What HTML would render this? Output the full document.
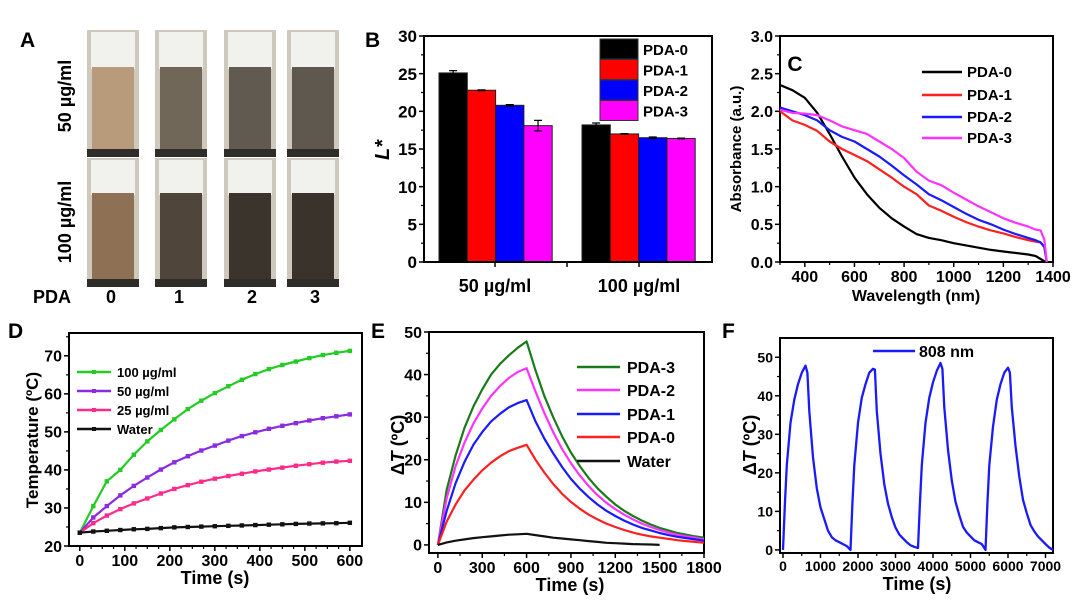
<!DOCTYPE html>
<html><head><meta charset="utf-8"><style>
html,body{margin:0;padding:0;background:#fff;}
svg{display:block;font-family:"Liberation Sans",Arial,sans-serif;font-weight:bold;}
</style></head><body>
<svg id="fig" width="1080" height="607" viewBox="0 0 1080 607" xmlns="http://www.w3.org/2000/svg">
<rect x="0" y="0" width="1080" height="607" fill="#fff"/>
</svg>
<script>
// ---- Panel B data ----
const bGroups = ["50 µg/ml", "100 µg/ml"];
const bSeries = ["PDA-0", "PDA-1", "PDA-2", "PDA-3"];
const bVals50 = [25.1, 22.8, 20.8, 18.1];
const bVals100 = [18.2, 17.0, 16.5, 16.4];
const bErr50 = [0.3, 0.05, 0.1, 0.7];
const bErr100 = [0.25, 0.05, 0.1, 0.05];
const bYTicks = [0, 5, 10, 15, 20, 25, 30];
// ---- Panel C data ----
const cWave = [300,350,400,450,500,550,600,650,700,750,800,850,900,950,1000,1050,1100,1150,1200,1250,1300,1330,1350,1365,1375];
const cPDA0 = [2.35,2.28,2.18,1.98,1.70,1.40,1.12,0.90,0.72,0.58,0.47,0.37,0.32,0.29,0.25,0.22,0.19,0.16,0.14,0.12,0.10,0.08,0.04,0.01,0.0];
const cPDA1 = [2.0,1.88,1.82,1.74,1.6,1.5,1.42,1.34,1.23,1.12,1.0,0.9,0.75,0.68,0.6,0.53,0.47,0.42,0.38,0.33,0.29,0.27,0.26,0.2,0.0];
const cPDA2 = [2.05,2.0,1.95,1.88,1.75,1.66,1.6,1.5,1.4,1.28,1.15,1.03,0.9,0.82,0.73,0.64,0.56,0.5,0.43,0.37,0.32,0.29,0.26,0.2,0.0];
const cPDA3 = [2.02,1.98,1.97,1.95,1.88,1.8,1.75,1.7,1.6,1.5,1.38,1.2,1.08,1.02,0.92,0.83,0.74,0.66,0.58,0.52,0.47,0.43,0.42,0.3,0.0];
const cXTicks = [400,600,800,1000,1200,1400];
const cYTicks = ["0.0","0.5","1.0","1.5","2.0","2.5","3.0"];
// ---- Panel D data ----
const dTime = [0,30,60,90,120,150,180,210,240,270,300,330,360,390,420,450,480,510,540,570,600];
const d100 = [23.5,30.5,37,40,44,47.5,50.5,53.3,56,58.2,60.2,62,63.7,65.2,66.5,67.6,68.5,69.4,70.2,70.8,71.3];
const d50 = [23.5,27.5,30.5,33.3,35.8,38,40.1,42,43.6,45.1,46.4,47.7,48.9,49.9,50.8,51.6,52.3,53,53.6,54.1,54.6];
const d25 = [23.5,26,28,29.7,31.2,32.5,33.8,35,36,36.9,37.7,38.4,39,39.6,40.1,40.6,41.1,41.5,41.9,42.2,42.4];
const dWater = [23.5,23.8,24,24.2,24.4,24.5,24.7,24.9,25,25.1,25.2,25.3,25.4,25.5,25.6,25.7,25.8,25.9,25.95,26,26.1];
const dXTicks = [0,100,200,300,400,500,600];
const dYTicks = [20,30,40,50,60,70];
// ---- Panel E data ----
const eTime = [0,60,120,180,240,300,360,420,480,540,600,660,720,780,840,900,960,1020,1080,1140,1200,1260,1320,1380,1440,1500,1560,1620,1680,1740,1800];
const ePDA3 = [0,13,21,27.5,32.5,36.5,40,42.5,44.5,46.3,47.8,41,35,30,25.5,21.7,18.5,15.7,13.3,11.3,9.5,8,6.8,5.7,4.8,4,3.4,2.8,2.4,2,1.7];
const ePDA2 = [0,11,18.5,24,28.5,32,35,37.3,39.2,40.6,41.5,36,31,26.5,22.5,19.2,16.3,13.8,11.7,9.9,8.4,7.1,6,5,4.2,3.5,2.9,2.4,2,1.7,1.3];
const ePDA1 = [0,8,14.5,19.5,23.5,26.5,29,30.8,32.3,33.3,34,29,25,21.5,18.3,15.5,13.2,11.2,9.5,8,6.8,5.7,4.8,4,3.4,2.8,2.3,1.9,1.6,1.3,1];
const ePDA0 = [0,5.5,9.5,12.8,15.3,17.5,19.3,20.8,22,22.8,23.5,20,17,14.3,12,10.1,8.5,7.1,6,5,4.2,3.5,2.9,2.4,2,1.7,1.4,1.1,0.9,0.7,0.5];
const eWater = [0,0.6,1,1.3,1.6,1.8,2,2.2,2.4,2.5,2.6,2.3,2,1.7,1.5,1.3,1.1,0.9,0.7,0.5,0.4,0.3,0.2,0.15,0.1,0,null,null,null,null,null];
const eXTicks = [0,300,600,900,1200,1500,1800];
const eYTicks = [0,10,20,30,40,50];
// ---- Panel F data ----
const fTime = [0,50,100,200,300,400,500,600,650,700,800,900,1000,1100,1200,1300,1400,1500,1600,1700,1800,
 1850,1900,2000,2100,2200,2300,2400,2450,2500,2600,2700,2800,2900,3000,3100,3200,3300,3400,3500,3600,
 3650,3700,3800,3900,4000,4100,4200,4250,4300,4400,4500,4600,4700,4800,4900,5000,5100,5200,5300,5400,
 5450,5500,5600,5700,5800,5900,6000,6050,6100,6200,6300,6400,6500,6600,6700,6800,6900,7000,7100,7200];
const fTemp = [0,12,22,33,39,43,46,47.8,46,36,24,16,11,8,5,3.3,2.5,2,1.5,1,0,
 12,22,33,39.5,43,46,47,46.8,36,25,17,12,8.5,5.8,4,3,2,1.2,0.8,0.5,
 12,22,33,39.5,43.5,46.5,48.5,47,37,26,18,12.5,9,6,4.5,3.5,2.5,2,1.5,0,
 12,22,32,39,43,46,47.3,46,37,27,19,13,9.5,6.5,4.8,3.5,2.5,1.5,0.6,0];
const fXTicks = [0,1000,2000,3000,4000,5000,6000,7000];
const fYTicks = [0,10,20,30,40,50];

const NS = 'http://www.w3.org/2000/svg';
const svg = document.getElementById('fig');
function mk(tag, attrs, parent) {
  const e = document.createElementNS(NS, tag);
  for (const k in attrs) e.setAttribute(k, attrs[k]);
  (parent || svg).appendChild(e);
  return e;
}
function lin(d0, d1, r0, r1) { return v => r0 + (v - d0) * (r1 - r0) / (d1 - d0); }
function txt(x, y, s, size, anchor, name, extra) {
  const t = mk('text', Object.assign({x: x, y: y, 'font-size': size, 'text-anchor': anchor || 'start'}, extra || {}));
  t.textContent = s;
  
  
  return t;
}
function deltaTitle(x, y, name) {
  const t = mk('text', {x: 0, y: 0, 'font-size': 18, 'text-anchor': 'middle', transform: 'translate(' + x + ',' + y + ') rotate(-90)'});
  
  
  const a = mk('tspan', {}, t); a.textContent = 'Δ';
  const b = mk('tspan', {'font-style': 'italic'}, t); b.textContent = 'T';
  const c = mk('tspan', {}, t); c.textContent = ' (ºC)';
}
function axes(p, xs, ys, xt, yt, fs, xminor, yminor, hideX) {
  const g = mk('g', {});
  
  
  yt.forEach(v => {
    const y = ys(parseFloat(v));
    mk('line', {x1: p.x0 - 5, x2: p.x0, y1: y, y2: y, stroke: '#000', 'stroke-width': 1.5}, g);
    const t = txt(p.x0 - 7, y + fs * 0.36, String(v), fs, 'end', 'y-tick-label');
    g.appendChild(t);
  });
  if (yminor) yminor.forEach(v => {
    const y = ys(v);
    mk('line', {x1: p.x0 - 3, x2: p.x0, y1: y, y2: y, stroke: '#000', 'stroke-width': 1.2}, g);
  });
  if (!hideX) {
    xt.forEach(v => {
      const x = xs(v);
      mk('line', {x1: x, x2: x, y1: p.y1, y2: p.y1 + 5, stroke: '#000', 'stroke-width': 1.5}, g);
      const t = txt(x, p.y1 + 7 + fs * 0.8, String(v), fs, 'middle', 'x-tick-label');
      g.appendChild(t);
    });
    if (xminor) xminor.forEach(v => {
      const x = xs(v);
      mk('line', {x1: x, x2: x, y1: p.y1, y2: p.y1 + 3, stroke: '#000', 'stroke-width': 1.2}, g);
    });
  }
  const fr = mk('rect', {x: p.x0, y: p.y0, width: p.x1 - p.x0, height: p.y1 - p.y0, fill: 'none', stroke: '#000', 'stroke-width': 2});
  
  
  return g;
}
function linePath(xsArr, ysArr, xs, ys, color, w, name) {
  let d = '', pen = false;
  for (let i = 0; i < xsArr.length; i++) {
    if (ysArr[i] === null) { pen = false; continue; }
    d += (pen ? 'L' : 'M') + xs(xsArr[i]).toFixed(1) + ',' + ys(ysArr[i]).toFixed(1);
    pen = true;
  }
  const pth = mk('path', {d: d, fill: 'none', stroke: color, 'stroke-width': w, 'stroke-linejoin': 'round'});
  
  
  return pth;
}
function range(a, b, s) { const r = []; for (let v = a; v <= b + 1e-9; v += s) r.push(v); return r; }

// ================= Panel A (photos) =================
(function () {
  const colX = [87, 155, 224, 287];
  const w = 52;
  const rows = [{y: 30, h: 127, liq: 67, cols: ['#b89b7a', '#716759', '#615a50', '#5f584e']},
                {y: 158, h: 129, liq: 193, cols: ['#8e7054', '#4f453a', '#3b342d', '#3a332c']}];
  rows.forEach((r, ri) => {
    colX.forEach((x, ci) => {
      const g = mk('g', {});
      
      
      mk('rect', {x: x, y: r.y, width: w, height: r.h, fill: '#cfc9bd'}, g);
      mk('rect', {x: x + 4, y: r.y + 2, width: w - 8, height: r.liq - r.y, fill: '#f1f1ee'}, g);
      mk('rect', {x: x + 5, y: r.liq, width: w - 10, height: r.y + r.h - r.liq - 6, fill: r.cols[ci]}, g);
      mk('rect', {x: x, y: r.y + r.h - 8, width: w, height: 8, fill: '#2f2d2a'}, g);
    });
  });
  txt(20, 47, 'A', 21, 'start', 'panel-label-a');
  txt(0, 0, '50 µg/ml', 18, 'middle', 'row-label-50', {transform: 'translate(71,96) rotate(-90)'});
  txt(0, 0, '100 µg/ml', 18, 'middle', 'row-label-100', {transform: 'translate(71,222) rotate(-90)'});
  txt(33, 303, 'PDA', 18, 'start', 'pda-label');
  ['0', '1', '2', '3'].forEach((s, i) => txt([111, 179, 252, 315][i], 303, s, 18, 'middle', 'pda-number'));
})();

// ================= Panel B (bars) =================
(function () {
  const p = {x0: 424, x1: 712, y0: 36, y1: 262};
  const ys = lin(0, 30, p.y1, p.y0);
  const colors = ['#000000', '#ff0000', '#0000ff', '#ff00ff'];
  const groupStart = [439, 582];
  const bw = 28.3;
  [bVals50, bVals100].forEach((vals, gi) => {
    const errs = gi === 0 ? bErr50 : bErr100;
    vals.forEach((v, i) => {
      const x = groupStart[gi] + i * bw;
      const r = mk('rect', {x: x, y: ys(v), width: bw, height: p.y1 - ys(v), fill: colors[i], stroke: '#222', 'stroke-width': 1});
      
      
      const cx = x + bw / 2;
      const e = mk('path', {d: 'M' + cx + ',' + ys(v + errs[i]) + 'V' + ys(v - errs[i]) + 'M' + (cx - 4) + ',' + ys(v + errs[i]) + 'h8M' + (cx - 4) + ',' + ys(v - errs[i]) + 'h8', stroke: '#000', 'stroke-width': 1.2, fill: 'none'});
      
      
    });
  });
  axes(p, null, ys, [], bYTicks, 17, null, range(2.5, 27.5, 5), true);
  [495, 567, 639].forEach(x => mk('line', {x1: x, x2: x, y1: p.y1, y2: p.y1 + 5, stroke: '#000', 'stroke-width': 1.5}));
  bGroups.forEach((s, i) => txt([495, 639][i], 292, s, 18, 'middle', 'x-category-label'));
  txt(0, 0, 'L*', 20, 'middle', 'y-axis-title', {transform: 'translate(389,150) rotate(-90)', 'font-style': 'italic'});
  txt(365, 47, 'B', 21, 'start', 'panel-label-b');
  bSeries.forEach((s, i) => {
    const r = mk('rect', {x: 600, y: 39 + i * 20.5, width: 38, height: 20, fill: colors[i], stroke: '#333', 'stroke-width': 1});
    
    
    txt(643, 55 + i * 20.5, s, 15, 'start', 'legend-entry');
  });
})();

// ================= Panel C (absorbance) =================
(function () {
  const p = {x0: 780, x1: 1053, y0: 36, y1: 262};
  const xs = lin(300, 1400, p.x0, p.x1);
  const ys = lin(0, 3, p.y1, p.y0);
  axes(p, xs, ys, cXTicks, cYTicks, 16, range(300, 1300, 200), range(0.25, 2.75, 0.5));
  const cols = ['#000', '#ff2020', '#1a1aff', '#ff33ff'];
  const names = ['PDA-0', 'PDA-1', 'PDA-2', 'PDA-3'];
  [cPDA0, cPDA1, cPDA2, cPDA3].forEach((arr, i) => linePath(cWave, arr, xs, ys, cols[i], 2.2, 'line-' + names[i].toLowerCase()));
  names.forEach((s, i) => {
    const y = [72, 95, 117, 138][i];
    const l = mk('line', {x1: 922, x2: 962, y1: y, y2: y, stroke: cols[i], 'stroke-width': 2.5});
    
    
    txt(967, y + 5, s, 15, 'start', 'legend-entry');
  });
  txt(795, 71, 'C', 21, 'middle', 'panel-label-c');
  txt(0, 0, 'Absorbance (a.u.)', 15, 'middle', 'y-axis-title', {transform: 'translate(741,149) rotate(-90)'});
  txt(916, 301, 'Wavelength (nm)', 16, 'middle', 'x-axis-title');
})();

// ================= Panel D (temperature) =================
(function () {
  const p = {x0: 69, x1: 362, y0: 333, y1: 546};
  const xs = lin(-24, 627, p.x0, p.x1);
  const ys = lin(20, 76, p.y1, p.y0);
  axes(p, xs, ys, dXTicks, dYTicks, 16, range(0, 600, 25), range(25, 75, 5));
  const cols = ['#22cc22', '#8a2be2', '#ff2a8a', '#111'];
  const names = ['100 µg/ml', '50 µg/ml', '25 µg/ml', 'Water'];
  [d100, d50, d25, dWater].forEach((arr, i) => {
    linePath(dTime, arr, xs, ys, cols[i], 2.2, 'line-' + ['100', '50', '25', 'water'][i]);
    arr.forEach((v, j) => {
      const m = mk('rect', {x: xs(dTime[j]) - 2.2, y: ys(v) - 2.2, width: 4.4, height: 4.4, fill: cols[i]});
      
      
    });
  });
  names.forEach((s, i) => {
    const y = [372, 391, 410, 429][i];
    const l = mk('line', {x1: 77, x2: 111, y1: y, y2: y, stroke: cols[i], 'stroke-width': 2.5});
    
    
    mk('rect', {x: 92, y: y - 2, width: 4, height: 4, fill: cols[i]});
    txt(117, y + 5, s, 13, 'start', 'legend-entry');
  });
  txt(8, 338, 'D', 21, 'start', 'panel-label-d');
  txt(0, 0, 'Temperature (ºC)', 17, 'middle', 'y-axis-title', {transform: 'translate(38,440) rotate(-90)'});
  txt(215, 584, 'Time (s)', 18, 'middle', 'x-axis-title');
})();

// ================= Panel E (ΔT) =================
(function () {
  const p = {x0: 429, x1: 704, y0: 332, y1: 553};
  const xs = lin(-60, 1800, p.x0, p.x1);
  const ys = lin(-1.9, 50, p.y1, p.y0);
  axes(p, xs, ys, eXTicks, eYTicks, 16, range(150, 1650, 300), range(5, 45, 10));
  const cols = ['#1a7a1a', '#ff33ff', '#1a1aff', '#ff2020', '#111'];
  const names = ['PDA-3', 'PDA-2', 'PDA-1', 'PDA-0', 'Water'];
  [ePDA3, ePDA2, ePDA1, ePDA0, eWater].forEach((arr, i) => linePath(eTime, arr, xs, ys, cols[i], 2.2, 'line-' + names[i].toLowerCase()));
  names.forEach((s, i) => {
    const y = [367, 390, 414, 437, 461][i];
    const l = mk('line', {x1: 577, x2: 620, y1: y, y2: y, stroke: cols[i], 'stroke-width': 2.5});
    
    
    txt(627, y + 6, s, 16, 'start', 'legend-entry');
  });
  txt(371, 338, 'E', 21, 'start', 'panel-label-e');
  deltaTitle(404, 445, 'y-axis-title');
  txt(570, 591, 'Time (s)', 18, 'middle', 'x-axis-title');
})();

// ================= Panel F (cycles) =================
(function () {
  const p = {x0: 780, x1: 1053, y0: 338, y1: 553};
  const xs = lin(-80, 7200, p.x0, p.x1);
  const ys = lin(-0.8, 55, p.y1, p.y0);
  axes(p, xs, ys, fXTicks, fYTicks, 14, range(500, 6500, 1000), range(5, 45, 10));
  linePath(fTime, fTemp, xs, ys, '#1a1aff', 2.3, 'line-808nm');
  const l = mk('line', {x1: 873, x2: 915, y1: 351, y2: 351, stroke: '#1a1aff', 'stroke-width': 2.5});
  
  
  txt(919, 357, '808 nm', 16, 'start', 'legend-entry');
  txt(722, 338, 'F', 21, 'start', 'panel-label-f');
  deltaTitle(756, 445, 'y-axis-title');
  txt(917, 590, 'Time (s)', 18, 'middle', 'x-axis-title');
})();
</script>
</body></html>
